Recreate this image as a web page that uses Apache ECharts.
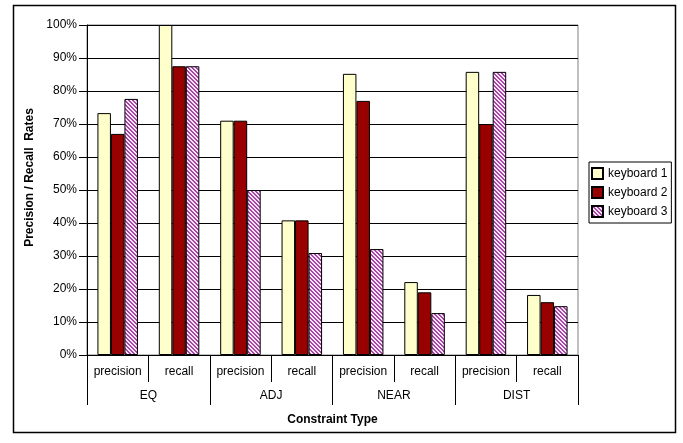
<!DOCTYPE html>
<html>
<head>
<meta charset="utf-8">
<script src="https://cdn.jsdelivr.net/npm/echarts@6/dist/echarts.min.js"></script>
<style>
  html, body { margin: 0; padding: 0; background: #fff; }
  #chart { width: 683px; height: 443px; }
</style>
</head>
<body>
<div id="chart"></div>
<script>
// data
var subLabels = ["precision", "recall", "precision", "recall", "precision", "recall", "precision", "recall"];
var groupLabels = ["EQ", "ADJ", "NEAR", "DIST"];
var seriesNames = ["keyboard 1", "keyboard 2", "keyboard 3"];
var keyboard1 = [73.3, 100, 71, 40.8, 85.2, 22.1, 85.8, 18.2];
var keyboard2 = [67, 87.5, 71, 40.8, 77, 19, 70, 16];
var keyboard3 = [77.6, 87.5, 50, 30.9, 32.1, 12.7, 85.8, 14.8];
var yTicks = [0, 10, 20, 30, 40, 50, 60, 70, 80, 90, 100];

// hatched fill for keyboard 3
function makeHatch() {
  var c = document.createElement("canvas");
  c.width = 4;
  c.height = 4;
  var ctx = c.getContext("2d");
  for (var x = 0; x < 4; x++) {
    for (var y = 0; y < 4; y++) {
      ctx.fillStyle = ((x - y + 4) % 4) < 2 ? "#a847a8" : "#f8e6f8";
      ctx.fillRect(x, y, 1, 1);
    }
  }
  return c;
}
var hatch = { image: makeHatch(), repeat: "repeat" };

var chart = echarts.init(document.getElementById("chart"));
var fontName = "Liberation Sans";
var barStyle = function (color) {
  return { color: color, borderColor: "#000", borderWidth: 1 };
};

var option = {
  animation: false,
  textStyle: { fontFamily: fontName },
  grid: {
    left: 87,
    top: 25,
    right: 105,
    bottom: 88,
    show: true,
    borderColor: "#808080",
    borderWidth: 1,
  },
  legend: {
    orient: "vertical",
    left: 589,
    top: 162,
    padding: [5, 4, 5, 2],
    itemWidth: 11,
    itemHeight: 11,
    itemGap: 6,
    borderColor: "#000",
    borderWidth: 1,
    backgroundColor: "#fff",
    icon: "rect",
    textStyle: { fontSize: 12, color: "#000", fontFamily: fontName },
    data: seriesNames,
  },
  xAxis: [
    {
      type: "category",
      data: subLabels,
      axisLine: { lineStyle: { color: "#000", width: 1 } },
      axisTick: { show: true, interval: 0, length: 27, lineStyle: { color: "#000" } },
      axisLabel: { interval: 0, margin: 11, fontSize: 12, color: "#000" },
    },
    {
      type: "category",
      position: "bottom",
      data: groupLabels,
      axisLine: { show: false },
      axisTick: { show: true, interval: 0, length: 50, lineStyle: { color: "#000" } },
      axisLabel: { interval: 0, margin: 35, fontSize: 12, color: "#000" },
      name: "Constraint Type",
      nameLocation: "middle",
      nameGap: 59,
      nameTextStyle: { fontWeight: "bold", fontSize: 12, color: "#000" },
    },
  ],
  yAxis: {
    type: "value",
    min: yTicks[0],
    max: yTicks[yTicks.length - 1],
    interval: 10,
    name: "Precision / Recall  Rates",
    nameLocation: "middle",
    nameGap: 47,
    nameTextStyle: { fontWeight: "bold", fontSize: 12, color: "#000", padding: [0, 0, 0, 25] },
    axisLine: { show: true, lineStyle: { color: "#000" } },
    axisTick: { show: true, length: 8, lineStyle: { color: "#000" } },
    axisLabel: { formatter: "{value}%", margin: 10, fontSize: 12, color: "#000" },
    splitLine: { lineStyle: { color: "#000", width: 1 } },
  },
  series: [
    {
      name: seriesNames[0],
      type: "bar",
      xAxisIndex: 0,
      barGap: "0%",
      barCategoryGap: "34%",
      itemStyle: barStyle("#ffffcc"),
      data: keyboard1,
    },
    {
      name: seriesNames[1],
      type: "bar",
      xAxisIndex: 0,
      barGap: "0%",
      barCategoryGap: "34%",
      itemStyle: barStyle("#990000"),
      data: keyboard2,
    },
    {
      name: seriesNames[2],
      type: "bar",
      xAxisIndex: 0,
      barGap: "0%",
      barCategoryGap: "34%",
      itemStyle: barStyle(hatch),
      data: keyboard3,
    },
  ],
  graphic: [
    {
      type: "rect",
      left: 11,
      top: 3,
      shape: { width: 662, height: 427 },
      style: { fill: null, stroke: "#000", lineWidth: 1.5 },
      silent: true,
      z: 100,
    },
  ],
};
chart.setOption(option);
</script>
</body>
</html>
